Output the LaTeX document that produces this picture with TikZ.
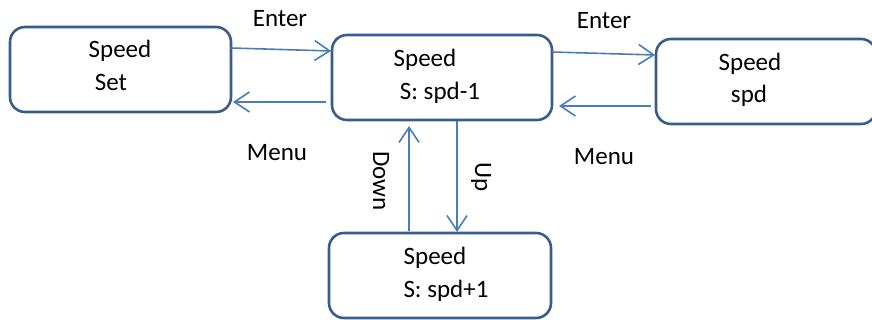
\documentclass[tikz,border=0pt]{standalone}
\usepackage{fontspec}
\setmainfont{Carlito}
\usetikzlibrary{arrows.meta}
\definecolor{boxline}{HTML}{385D8A}
\definecolor{arrowline}{HTML}{4A7EBB}
\begin{document}
\begin{tikzpicture}[x=1pt,y=-1pt,
  statebox/.style={draw=boxline,line width=2.6pt,rounded corners=15pt,fill=white},
  conn/.style={draw=arrowline,line width=1.6pt,-{Straight Barb[length=15pt,width=20pt,line width=1.6pt]}},
  lbl/.style={font=\fontsize{25}{28}\selectfont,inner sep=0pt,anchor=base},
  rlbl/.style={font=\fontsize{25}{28}\selectfont,inner sep=0pt,rotate=-90}]
\useasboundingbox (0,0) rectangle (872,320);
% boxes
\path[statebox] (10,27) rectangle (231,112);
\path[statebox] (332,35) rectangle (552,120);
\path[statebox] (656,39) rectangle (876,124);
\path[statebox] (329,233) rectangle (551,318);
\coordinate (a1) at (231,48);  \coordinate (b1) at (331,51);
\coordinate (b2) at (326,102); \coordinate (a2) at (233,102);
\coordinate (b3) at (552,52);  \coordinate (c3) at (655,55);
\coordinate (c4) at (651,106); \coordinate (b4) at (559,106);
\coordinate (d5) at (409,231); \coordinate (b5) at (409,126);
\coordinate (b6) at (457,121); \coordinate (d6) at (457,232);
% texts in boxes
\node[lbl] (t1) at (120,58) {Speed};
\node[lbl] (t2) at (111,91) {Set};
\node[lbl] (t3) at (425,67) {Speed};
\node[lbl] (t4) at (440,100) {S: spd-1};
\node[lbl] (t5) at (750,71) {Speed};
\node[lbl] (t6) at (749,103) {spd};
\node[lbl] (t7) at (435,265) {Speed};
\node[lbl] (t8) at (446,297) {S: spd+1};
% connectors
\draw[conn] (a1) -- (b1);
\draw[conn] (b2) -- (a2);
\draw[conn] (b3) -- (c3);
\draw[conn] (c4) -- (b4);
\draw[conn] (d5) -- (b5);
\draw[conn] (b6) -- (d6);
% labels
\node[lbl] (e1) at (280,27) {Enter};
\node[lbl] (m1) at (277,161) {Menu};
\node[lbl] (e2) at (604,29) {Enter};
\node[lbl] (m2) at (604,165) {Menu};
\node[rlbl] (dn) at (381,181) {Down};
\node[rlbl] (up) at (481,177) {Up};
\end{tikzpicture}
\end{document}
